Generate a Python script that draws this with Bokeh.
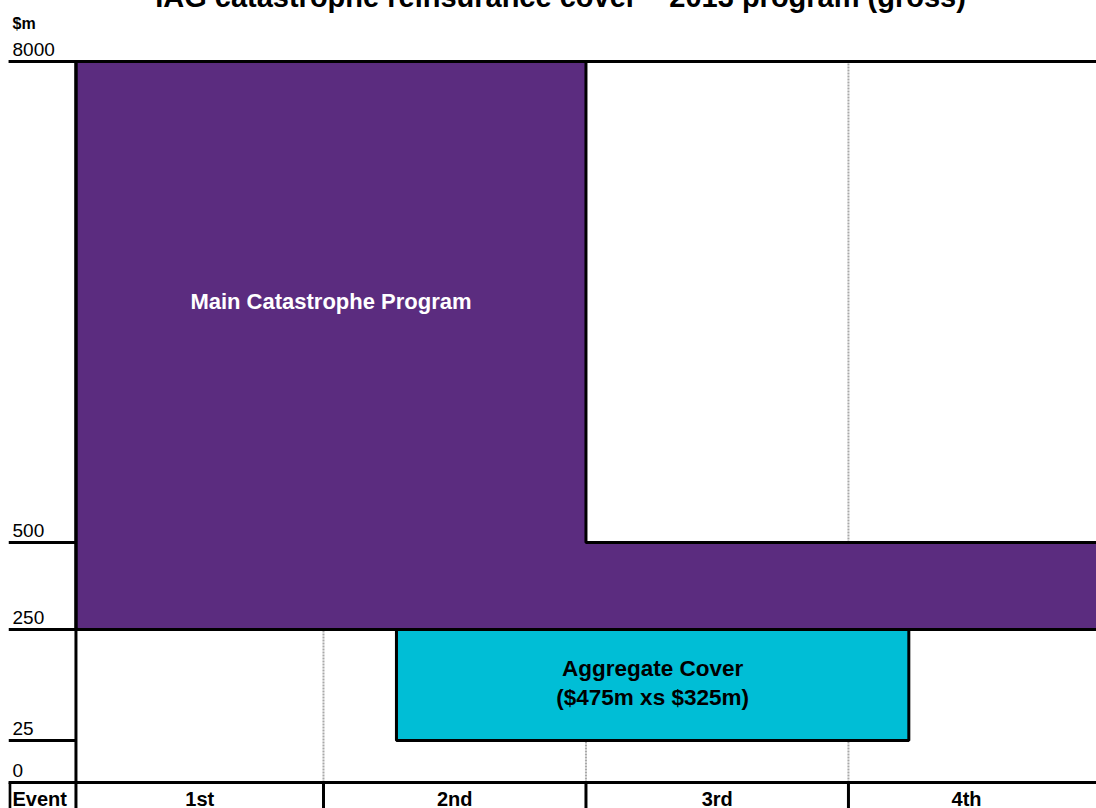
from bokeh.plotting import figure
from bokeh.embed import file_html
from bokeh.resources import INLINE
from bokeh.core.properties import value
import numpy as np

# ---------------- data ----------------
title = "IAG catastrophe reinsurance cover \u2013 2013 program (gross)"
unit_label = "$m"
tick_values = [0, 25, 250, 500, 8000]
tick_labels = ["0", "25", "250", "500", "8000"]

event_header = "Event"
events = ["1st", "2nd", "3rd", "4th"]

main_label = "Main Catastrophe Program"
main_first_event = [1, 3]          # layer starts at event
main_last_event = [2, 4]           # layer ends after event
main_bottom = [250, 250]
main_top = [8000, 500]

agg_label = "Aggregate Cover\n($475m xs $325m)"
agg_bottom = [25]
agg_top = [250]

# ---------------- layout (broken scale / positions) ----------------
tick_pos = [0, 42, 153, 240, 721]          # display units of the broken value axis
event_edges = [0.057, 1.0, 2.0, 3.0, 3.9]  # column boundaries in event units
x_start, x_end = -0.2, 3.945
axis_x = event_edges[0]
agg_x = [1.278, 3.23]
FONT = "Liberation Sans"

def disp(v):
    return np.interp(v, tick_values, tick_pos)

def edge_after(ev):
    return x_end + 0.1 if ev >= len(events) else event_edges[ev]

p = figure(width=1088, height=830, x_range=(x_start, x_end), y_range=(-26, 804),
           output_backend="svg", toolbar_location=None, min_border=0)
p.axis.visible = False
p.grid.visible = False
p.outline_line_color = None
p.background_fill_color = "white"
p.border_fill_color = "white"
p.margin = (-22, 0, 0, 8)

top_y = disp(max(tick_values))
bottom_y = -40

# gray dotted gridlines between events
inner = event_edges[1:4]
p.segment(x0=inner, x1=inner, y0=[0] * 3, y1=[top_y] * 3,
          line_color="#A8A8A8", line_width=2, line_dash="2 1")

# main catastrophe program (step shape)
xs = [event_edges[main_first_event[0] - 1], edge_after(main_last_event[0]),
      edge_after(main_last_event[0]), edge_after(main_last_event[1]),
      edge_after(main_last_event[1]), event_edges[main_first_event[0] - 1]]
ys = [disp(main_top[0]), disp(main_top[0]), disp(main_top[1]), disp(main_top[1]),
      disp(main_bottom[1]), disp(main_bottom[0])]
p.patch(xs, ys, fill_color="#5B2C7F", line_color="black", line_width=3)

# aggregate cover
p.quad(left=[agg_x[0]], right=[agg_x[1]], bottom=list(disp(agg_bottom)), top=list(disp(agg_top)),
       fill_color="#00BED6", line_color="black", line_width=3)

# tick lines
tp = list(disp(tick_values))
p.segment(x0=[x_start] * len(tp), x1=[axis_x] * len(tp), y0=tp, y1=tp,
          line_color="black", line_width=3)
# full-width lines at top and at zero
p.segment(x0=[x_start, x_start], x1=[x_end + 0.1, x_end + 0.1],
          y0=[top_y, disp(0)], y1=[top_y, disp(0)], line_color="black", line_width=3)
# value axis line
p.segment(x0=[axis_x], x1=[axis_x], y0=[top_y], y1=[bottom_y], line_color="black", line_width=3)
# table vertical lines
tv = [x_start + 0.005] + event_edges[1:4]
p.segment(x0=tv, x1=tv, y0=[0] * len(tv), y1=[bottom_y] * len(tv),
          line_color="black", line_width=3)

# texts
lab_x = x_start + 4 / 262.5
p.text(x=[lab_x] * len(tp), y=tp, text=tick_labels, y_offset=-12,
       text_font=value(FONT), text_font_size="19px", text_align="left",
       text_baseline="middle", text_color="black")
p.text(x=[lab_x], y=[top_y], text=[unit_label], y_offset=-38,
       text_font=value(FONT), text_font_size="16px", text_font_style="bold",
       text_align="left", text_baseline="middle", text_color="black")
p.text(x=[1.903], y=[top_y], text=[title], y_offset=-65,
       text_font=value(FONT), text_font_size="29px", text_font_style="bold",
       text_align="center", text_baseline="middle", text_color="black")

p.text(x=[(xs[0] + xs[1]) / 2], y=[481], text=[main_label],
       text_font=value(FONT), text_font_size="22px", text_font_style="bold",
       text_align="center", text_baseline="middle", text_color="white")
p.text(x=[(agg_x[0] + agg_x[1]) / 2], y=[(disp(agg_bottom[0]) + disp(agg_top[0])) / 2 + 2],
       text=[agg_label], text_font=value(FONT), text_font_size="22.5px",
       text_font_style="bold", text_align="center", text_baseline="middle",
       text_color="black", text_line_height=1.15)

centers = [(event_edges[i] + event_edges[i + 1]) / 2 for i in range(len(events))]
p.text(x=centers, y=[0] * len(events), text=events, y_offset=16,
       text_font=value(FONT), text_font_size="20px", text_font_style="bold",
       text_align="center", text_baseline="middle", text_color="black")
p.text(x=[lab_x], y=[0], text=[event_header], y_offset=16,
       text_font=value(FONT), text_font_size="20px", text_font_style="bold",
       text_align="left", text_baseline="middle", text_color="black")

open("out.html", "w").write(file_html(p, INLINE))
